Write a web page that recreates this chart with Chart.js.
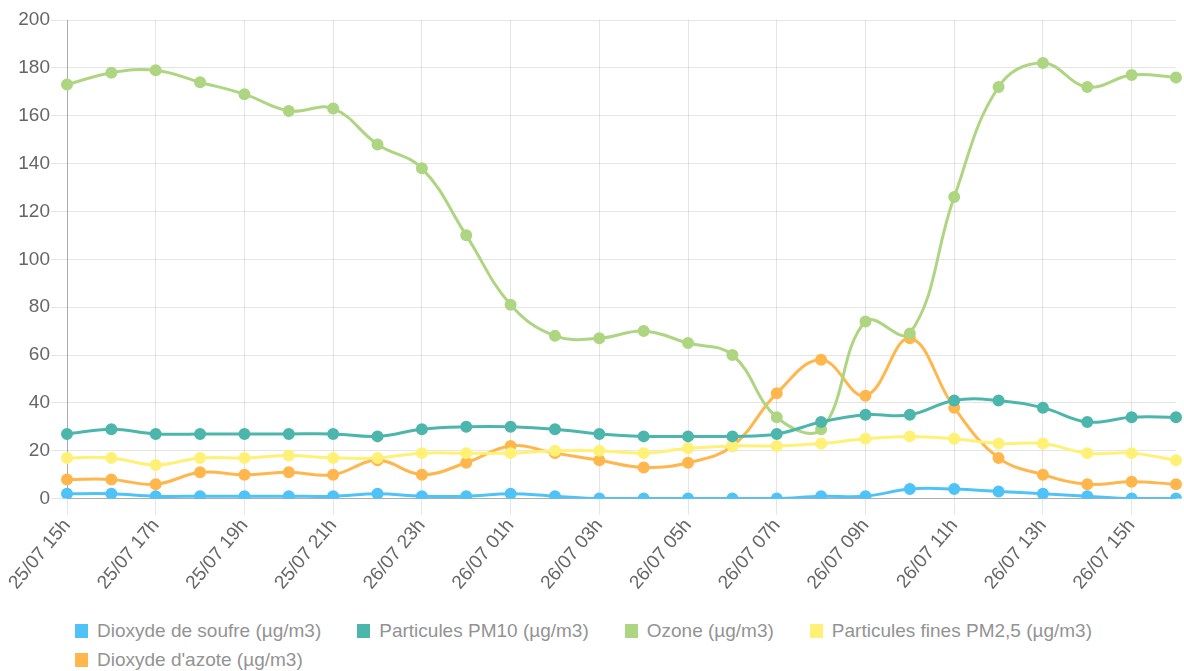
<!DOCTYPE html>
<html>
<head>
<meta charset="utf-8">
<script src="https://cdn.jsdelivr.net/npm/chart.js@4/dist/chart.umd.min.js"></script>
<style>
    html, body { margin: 0; padding: 0; background: #fff; }
    #wrap { position: relative; width: 1184px; height: 671px; overflow: hidden; }
    #chartBox { position: absolute; left: 0; top: 0; width: 1184px; height: 594px; }
    #legend {
        position: absolute; left: 75px; top: 616px; right: 0;
        margin: 0; padding: 0; list-style: none;
        display: flex; flex-wrap: wrap;
        font: 19px 'Liberation Sans', Arial, sans-serif; color: #939393;
    }
    #legend li { display: flex; align-items: center; height: 29px; margin-right: 36px; white-space: nowrap; }
    #legend li span { display: inline-block; width: 13px; height: 14px; margin-right: 9px; }
</style>
</head>
<body>
<div id="wrap">
    <div id="chartBox"><canvas id="pollutionChart"></canvas></div>
    <ul id="legend"></ul>
</div>
<script>
// Mesures horaires
const labels = [
    '25/07 15h', '25/07 16h', '25/07 17h', '25/07 18h', '25/07 19h', '25/07 20h',
    '25/07 21h', '25/07 22h', '26/07 23h', '26/07 00h', '26/07 01h', '26/07 02h',
    '26/07 03h', '26/07 04h', '26/07 05h', '26/07 06h', '26/07 07h', '26/07 08h',
    '26/07 09h', '26/07 10h', '26/07 11h', '26/07 12h', '26/07 13h', '26/07 14h',
    '26/07 15h', '26/07 16h'
];

const so2 = [2, 2, 1, 1, 1, 1, 1, 2, 1, 1, 2, 1, 0, 0, 0, 0, 0, 1, 1, 4, 4, 3, 2, 1, 0, 0];
const pm10 = [27, 29, 27, 27, 27, 27, 27, 26, 29, 30, 30, 29, 27, 26, 26, 26, 27, 32, 35, 35, 41, 41, 38, 32, 34, 34];
const ozone = [173, 178, 179, 174, 169, 162, 163, 148, 138, 110, 81, 68, 67, 70, 65, 60, 34, 29, 74, 69, 126, 172, 182, 172, 177, 176];
const pm25 = [17, 17, 14, 17, 17, 18, 17, 17, 19, 19, 19, 20, 20, 19, 21, 22, 22, 23, 25, 26, 25, 23, 23, 19, 19, 16];
const no2 = [8, 8, 6, 11, 10, 11, 10, 16, 10, 15, 22, 19, 16, 13, 15, 22, 44, 58, 43, 67, 38, 17, 10, 6, 7, 6];

const seriesNames = [
    'Dioxyde de soufre (µg/m3)',
    'Particules PM10 (µg/m3)',
    'Ozone (µg/m3)',
    'Particules fines PM2,5 (µg/m3)',
    "Dioxyde d'azote (µg/m3)"
];
const seriesColors = ['#4fc3f7', '#4db6ac', '#aed581', '#fff176', '#ffb74d'];

function makeDataset(i, values) {
    return {
        label: seriesNames[i],
        data: values,
        borderColor: seriesColors[i],
        backgroundColor: seriesColors[i],
        borderWidth: 3,
        pointRadius: 4.5,
        pointHoverRadius: 5,
        tension: 0.4,
        fill: false
    };
}

// legende HTML sous le graphique
const htmlLegend = {
    id: 'htmlLegend',
    afterUpdate(chart) {
        const ul = document.getElementById('legend');
        const items = chart.options.plugins.legend.labels.generateLabels(chart);
        ul.innerHTML = items.map(item =>
            `<li><span style="background:${item.fillStyle}"></span>${item.text}</li>`
        ).join('');
    }
};

Chart.defaults.font.family = "'Liberation Sans', Arial, sans-serif";
Chart.defaults.color = '#666';

const ctx = document.getElementById('pollutionChart').getContext('2d');
new Chart(ctx, {
    type: 'line',
    data: {
        labels: labels,
        datasets: [
            makeDataset(0, so2),
            makeDataset(1, pm10),
            makeDataset(2, ozone),
            makeDataset(3, pm25),
            makeDataset(4, no2)
        ]
    },
    options: {
        responsive: true,
        maintainAspectRatio: false,
        animation: false,
        layout: { padding: { top: 20, right: 0, left: 0 } },
        plugins: {
            legend: { display: false },
            tooltip: { enabled: false }
        },
        scales: {
            x: {
                grid: {
                    color: c => (c.index % 2 ? 'transparent' : 'rgba(0,0,0,0.1)'),
                    tickLength: 16
                },
                border: { color: 'rgba(0,0,0,0.25)' },
                ticks: {
                    autoSkip: false,
                    minRotation: 50,
                    maxRotation: 50,
                    padding: 0,
                    font: { size: 19 },
                    callback: function(value, index) {
                        return index % 2 ? '' : this.getLabelForValue(value);
                    }
                },
                afterFit: function(scale) {
                    scale.paddingLeft = 67;
                    scale.paddingRight = 6;
                }
            },
            y: {
                min: 0,
                max: 200,
                grid: { color: 'rgba(0,0,0,0.1)', tickLength: 16 },
                border: { color: 'rgba(0,0,0,0.25)' },
                ticks: { stepSize: 20, padding: 1, font: { size: 19 } }
            }
        }
    },
    plugins: [htmlLegend]
});
</script>
</body>
</html>
